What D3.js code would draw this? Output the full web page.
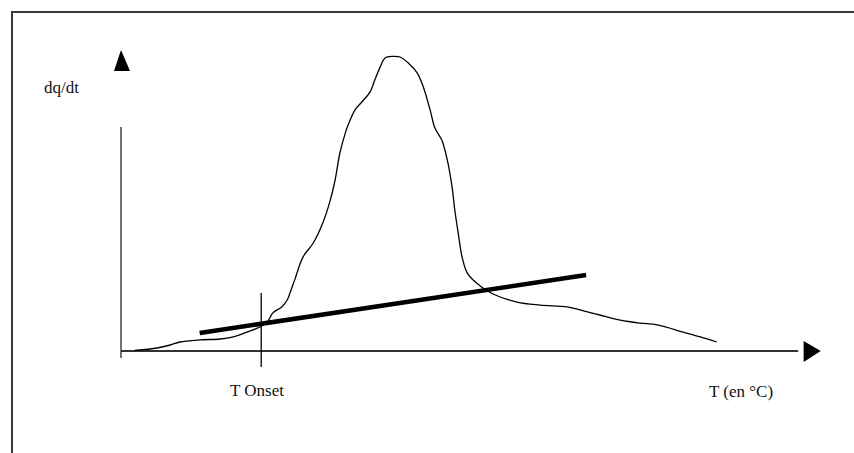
<!DOCTYPE html>
<html>
<head>
<meta charset="utf-8">
<script src="https://cdn.jsdelivr.net/npm/d3@7"></script>
<style>
  body { margin: 0; background: #fff; }
  svg text { font-family: "Liberation Serif", "Times New Roman", serif; fill: #111; }
</style>
</head>
<body>
<div id="chart"></div>
<script>
// DSC-like curve, schematic units (T 0..100, dq/dt 0..100)
let curveT = [2.0, 5.3, 7.2, 8.6, 11.5, 14.5, 16.4, 18.4, 20.3, 21.4, 22.2, 23.5, 24.3, 24.7, 25.4,
    26.6, 28.1, 29.5, 30.6, 31.3, 32.0, 32.8, 33.2, 34.2, 35.2, 36.4, 37.1, 37.9, 38.6, 39.8,
    40.8, 42.0, 43.3, 44.2, 45.2, 45.9, 46.9, 47.7, 48.4, 48.8, 49.3, 49.9, 50.7, 52.5, 54.4,
    57.9, 61.3, 65.2, 67.1, 70.0, 73.0, 75.9, 78.4, 82.2, 84.7, 87.1];
let curveQ = [0.2, 1.0, 2.0, 3.0, 3.7, 4.0, 4.7, 6.3, 8.0, 9.7, 12.7, 14.7, 17.0, 19.3, 23.7,
    31.3, 36.0, 42.7, 50.3, 57.0, 66.0, 72.7, 75.3, 80.3, 83.0, 86.3, 90.3, 94.7, 97.7, 98.2,
    98.0, 96.0, 92.7, 88.0, 80.3, 74.3, 70.3, 63.7, 54.7, 47.0, 39.3, 31.0, 25.7, 21.7, 19.0,
    16.3, 15.3, 14.7, 13.7, 12.0, 10.3, 9.3, 8.7, 6.3, 4.7, 3.0];

// tangent (baseline) line ends and onset temperature
let tangentT = [11.5, 68.0];
let tangentQ = [6.0, 25.3];
let onsetT = 20.5;

let labelY = "dq/dt";
let labelX = "T (en °C)";
let labelOnset = "T Onset";

let W = 854, H = 453;

let svg = d3.select("#chart").append("svg")
    .attr("width", W)
    .attr("height", H);

// scales: origin of the plot at (121, 351)
let x = d3.scaleLinear().domain([0, 100]).range([121, 805]);
let y = d3.scaleLinear().domain([0, 100]).range([351, 51]);

// frame (top and left only)
svg.append("path")
    .attr("d", "M12,453 L12,12 L854,12")
    .attr("fill", "none")
    .attr("stroke", "#3a3a3a")
    .attr("stroke-width", 2);

// y axis line and its detached arrow head
svg.append("line")
    .attr("x1", x(0)).attr("x2", x(0))
    .attr("y1", y(74.7)).attr("y2", y(-2.3))
    .attr("stroke", "#444")
    .attr("stroke-width", 1.5);

svg.append("path")
    .attr("d", "M" + x(0) + "," + y(100.3) + " L" + (x(0) - 7) + "," + y(93.3) +
        " L" + (x(0) + 9) + "," + y(93.3) + " Z")
    .attr("fill", "#000");

// x axis line with arrow head
svg.append("line")
    .attr("x1", x(0)).attr("x2", x(99))
    .attr("y1", y(0)).attr("y2", y(0))
    .attr("stroke", "#333")
    .attr("stroke-width", 2);

svg.append("path")
    .attr("d", "M" + x(102.3) + "," + y(0) + " L" + x(99.8) + "," + (y(0) - 10) +
        " L" + x(99.8) + "," + (y(0) + 11) + " Z")
    .attr("fill", "#000");

// the measured curve
let line = d3.line()
    .x(function (d, i) { return x(curveT[i]); })
    .y(function (d, i) { return y(curveQ[i]); })
    .curve(d3.curveCatmullRom.alpha(0.5));

svg.append("path")
    .datum(curveT)
    .attr("d", line)
    .attr("fill", "none")
    .attr("stroke", "#000")
    .attr("stroke-width", 1.3);

// tangent line (thick)
svg.append("line")
    .attr("x1", x(tangentT[0])).attr("y1", y(tangentQ[0]))
    .attr("x2", x(tangentT[1])).attr("y2", y(tangentQ[1]))
    .attr("stroke", "#000")
    .attr("stroke-width", 4.5);

// onset marker
svg.append("line")
    .attr("x1", x(onsetT)).attr("x2", x(onsetT))
    .attr("y1", y(19.3)).attr("y2", y(-5.3))
    .attr("stroke", "#000")
    .attr("stroke-width", 1.3);

// labels
svg.append("text")
    .attr("x", 44).attr("y", 93)
    .style("font-size", "17px")
    .text(labelY);

svg.append("text")
    .attr("x", 230).attr("y", 396)
    .style("font-size", "17px")
    .text(labelOnset);

svg.append("text")
    .attr("x", 709).attr("y", 397)
    .style("font-size", "17px")
    .text(labelX);
</script>
</body>
</html>
